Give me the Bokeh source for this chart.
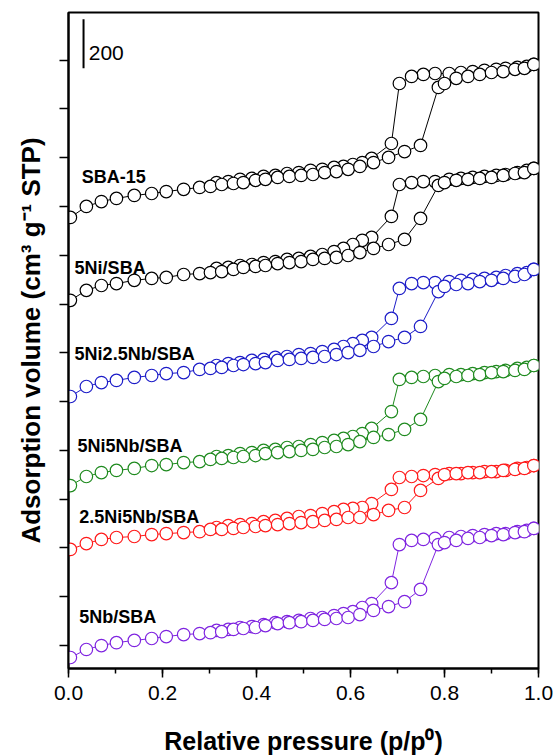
from bokeh.plotting import figure
from bokeh.models import Range1d, SingleIntervalTicker, FixedTicker, PrintfTickFormatter, Label
from bokeh.embed import file_html
from bokeh.resources import INLINE

# Relative pressure of adsorption / desorption points
ads_p = [0.004, 0.038, 0.070, 0.102, 0.140, 0.177, 0.208, 0.245, 0.279, 0.302, 0.326, 0.351, 0.372,
         0.398, 0.419, 0.445, 0.470, 0.495, 0.520, 0.545, 0.570, 0.595, 0.620, 0.649, 0.681, 0.715,
         0.749, 0.787, 0.800, 0.825, 0.850, 0.875, 0.900, 0.925, 0.950, 0.970, 0.990]
des_p = [0.990, 0.975, 0.955, 0.930, 0.910, 0.885, 0.860, 0.835, 0.810, 0.780, 0.755, 0.730, 0.704,
         0.687, 0.645, 0.625, 0.605, 0.585, 0.565, 0.540, 0.515, 0.490, 0.465, 0.440, 0.415, 0.390,
         0.365, 0.340, 0.315]

# Adsorbed volume (stacked, offset included)
sba15_ads = [1755, 1800, 1820, 1833, 1845, 1853, 1861, 1870, 1878, 1882, 1890, 1894, 1898, 1907, 1911, 1919,
             1923, 1927, 1931, 1939, 1943, 1952, 1964, 1980, 2001, 2025, 2050, 2288, 2304, 2325, 2333, 2341,
             2349, 2353, 2362, 2366, 2382]
sba15_des = [2382, 2374, 2370, 2366, 2362, 2358, 2353, 2349, 2345, 2345, 2341, 2333, 2304, 2058, 1997, 1980,
             1972, 1964, 1960, 1952, 1948, 1939, 1935, 1927, 1923, 1915, 1911, 1902, 1898]

ni_ads = [1415, 1456, 1476, 1484, 1497, 1505, 1509, 1521, 1525, 1529, 1533, 1542, 1550, 1554, 1558, 1566,
          1570, 1574, 1583, 1587, 1591, 1599, 1611, 1628, 1644, 1665, 1751, 1886, 1898, 1907, 1911, 1915,
          1919, 1927, 1935, 1939, 1956]
ni_des = [1956, 1948, 1939, 1931, 1927, 1923, 1919, 1915, 1911, 1902, 1902, 1898, 1890, 1759, 1673, 1661,
          1644, 1628, 1615, 1603, 1595, 1587, 1583, 1574, 1570, 1562, 1558, 1550, 1546]

ni25nb_ads = [1021, 1062, 1078, 1087, 1099, 1107, 1115, 1119, 1132, 1136, 1140, 1148, 1152, 1156, 1160, 1169,
              1173, 1177, 1181, 1185, 1193, 1201, 1210, 1226, 1246, 1263, 1308, 1451, 1472, 1480, 1484, 1492,
              1497, 1505, 1513, 1521, 1542]
ni25nb_des = [1542, 1529, 1525, 1517, 1509, 1505, 1501, 1497, 1492, 1488, 1488, 1484, 1464, 1341, 1263, 1251,
              1238, 1226, 1214, 1205, 1197, 1193, 1185, 1181, 1173, 1169, 1160, 1156, 1148]

ni5nb_ads = [656, 693, 709, 718, 726, 738, 742, 750, 754, 763, 767, 771, 775, 779, 787, 791, 795, 800, 804,
             812, 816, 824, 836, 853, 865, 886, 927, 1082, 1095, 1103, 1107, 1111, 1119, 1123, 1128, 1132, 1148]
ni5nb_des = [1148, 1140, 1136, 1128, 1123, 1119, 1115, 1111, 1111, 1107, 1103, 1099, 1091, 959, 890, 869,
             857, 849, 841, 832, 824, 816, 812, 804, 800, 791, 787, 779, 775]

ni25_5nb_ads = [394, 418, 435, 443, 447, 455, 459, 463, 467, 476, 476, 480, 484, 488, 492, 496, 500, 504, 508,
                513, 517, 525, 525, 537, 554, 566, 636, 685, 701, 705, 709, 709, 713, 718, 722, 726, 738]
ni25_5nb_des = [738, 730, 726, 718, 713, 713, 709, 705, 705, 701, 697, 693, 689, 640, 582, 566, 562, 558, 549,
                541, 533, 529, 521, 513, 508, 500, 496, 492, 484]

nb_ads = [-49, -16, 0, 12, 21, 29, 37, 45, 49, 53, 57, 66, 70, 74, 82, 90, 94, 98, 103, 107, 111, 115, 127,
          144, 160, 180, 230, 414, 422, 431, 439, 443, 451, 455, 463, 467, 480]
nb_des = [480, 472, 467, 459, 459, 455, 451, 447, 443, 439, 435, 431, 414, 258, 172, 156, 139, 131, 123, 115,
          111, 103, 98, 94, 86, 78, 74, 66, 62]

names = ["SBA-15", "5Ni/SBA", "5Ni2.5Nb/SBA", "5Ni5Nb/SBA", "2.5Ni5Nb/SBA", "5Nb/SBA"]
colors = ["#000000", "#000000", "#1c1cc8", "#1e8a1e", "#ff1a1a", "#7f24e0"]
ads_sets = [sba15_ads, ni_ads, ni25nb_ads, ni5nb_ads, ni25_5nb_ads, nb_ads]
des_sets = [sba15_des, ni_des, ni25nb_des, ni5nb_des, ni25_5nb_des, nb_des]
label_x = [0.028, 0.013, 0.013, 0.019, 0.023, 0.023]
label_y = [1919, 1546, 1197, 820, 529, 119]
y_ticks = list(range(0, 2401, 200))

FONT = "Liberation Sans"

p = figure(frame_width=470, frame_height=656, output_backend="svg", toolbar_location=None,
           x_range=Range1d(0, 1.0), y_range=Range1d(-94, 2595),
           min_border_left=68, min_border_right=22, min_border_top=12, min_border_bottom=87)
p.grid.visible = False
p.outline_line_color = "black"
p.outline_line_width = 2
p.background_fill_color = "white"
p.border_fill_color = "white"

for ads, des, c in zip(ads_sets, des_sets, colors):
    p.line(ads_p, ads, line_color=c, line_width=1)
    p.line(des_p, des, line_color=c, line_width=1)
for ads, des, c in zip(ads_sets, des_sets, colors):
    p.scatter(des_p, des, marker="circle", size=12.5, line_color=c, fill_color="white", line_width=1.2)
    p.scatter(ads_p, ads, marker="circle", size=12.5, line_color=c, fill_color="white", line_width=1.2)

for name, lx, ly in zip(names, label_x, label_y):
    p.add_layout(Label(x=lx, y=ly, text=name, text_font=FONT, text_font_size="18px",
                       text_font_style="bold", text_color="black", text_baseline="alphabetic"))

# scale bar
p.line([0.032, 0.032], [2366, 2567], line_color="black", line_width=2)
p.add_layout(Label(x=0.043, y=2431, text="200", text_font=FONT, text_font_size="21px",
                   text_color="black", text_baseline="alphabetic"))

xa = p.xaxis[0]
xa.ticker = SingleIntervalTicker(interval=0.2, num_minor_ticks=2)
xa.formatter = PrintfTickFormatter(format="%.1f")
xa.axis_label = "Relative pressure (p/p\u2070)"
ya = p.yaxis[0]
# unlabeled ticks on the y axis: drawn as (minor) ticks so that no empty labels are produced
ya.ticker = FixedTicker(ticks=[], minor_ticks=y_ticks)
ya.axis_label = "Adsorption volume (cm\u00b3 g\u207b\u00b9 STP)"

for ax in (xa, ya):
    ax.axis_line_width = 2
    ax.axis_line_color = "black"
    ax.major_tick_line_width = 1.5
    ax.minor_tick_line_width = 1.5
    ax.major_tick_in = 0
    ax.major_tick_out = 9
    ax.minor_tick_in = 0
    ax.minor_tick_out = 5
    ax.axis_label_text_font = FONT
    ax.axis_label_text_font_style = "bold"
    ax.axis_label_text_color = "black"
    ax.major_label_text_font = FONT
    ax.major_label_text_color = "black"
ya.minor_tick_out = 9
xa.axis_label_text_font_size = "25px"
ya.axis_label_text_font_size = "26px"
xa.major_label_text_font_size = "21px"
xa.major_label_standoff = 8
xa.axis_label_standoff = 24
ya.axis_label_standoff = 14

open("out.html", "w").write(file_html(p, INLINE))
